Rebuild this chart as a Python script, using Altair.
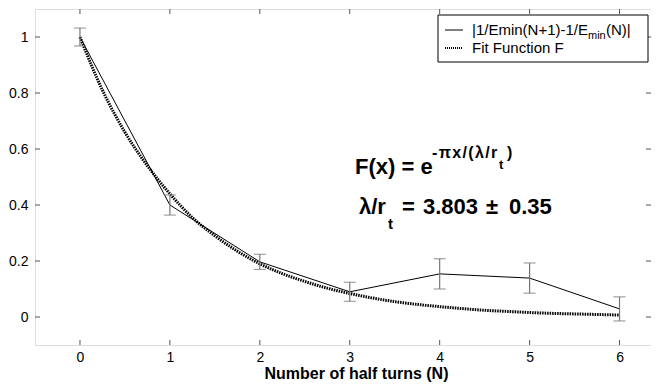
import altair as alt
import pandas as pd

# ---- data ----
N = [0, 1, 2, 3, 4, 5, 6]
diff_vals = [1.0, 0.40, 0.197, 0.090, 0.154, 0.139, 0.029]
diff_err = [0.032, 0.036, 0.027, 0.034, 0.054, 0.054, 0.043]

fit_x = [0, 0.25, 0.5, 0.75, 1, 1.25, 1.5, 1.75, 2, 2.25, 2.5, 2.75, 3,
         3.25, 3.5, 3.75, 4, 4.25, 4.5, 4.75, 5, 5.25, 5.5, 5.75, 6]
fit_y = [1.0, 0.81, 0.66, 0.54, 0.44, 0.355, 0.29, 0.235, 0.19, 0.155, 0.127,
         0.103, 0.084, 0.068, 0.055, 0.045, 0.037, 0.030, 0.024, 0.020, 0.016,
         0.013, 0.011, 0.009, 0.007]

x_ticks = [0, 1, 2, 3, 4, 5, 6]
y_ticks = [0, 0.2, 0.4, 0.6, 0.8, 1.0]

X_DOMAIN = [-0.5, 6.35]
Y_DOMAIN = [-0.1, 1.1]
W, H = 616, 336
FONT = "Liberation Sans"
FRAME = "#555555"
HS = "\u200a"  # hair space

df = pd.DataFrame({"N": N, "v": diff_vals, "e": diff_err})
df["lo"] = df["v"] - df["e"]
df["hi"] = df["v"] + df["e"]
fit = pd.DataFrame({"x": fit_x, "y": fit_y})

xs = alt.Scale(domain=X_DOMAIN, nice=False, zero=False)
ys = alt.Scale(domain=Y_DOMAIN, nice=False, zero=False)

xaxis = alt.Axis(values=x_ticks, format="d", ticks=False, grid=False, domain=False,
                 labelFont=FONT, labelFontSize=14, labelColor="black", labelPadding=5,
                 title="Number of half turns (N)", titleFont=FONT, titleFontSize=16,
                 titleFontWeight="bold", titleColor="black",
                 titleX=321, titleY=33, titleAlign="center", titleBaseline="alphabetic")
yaxis = alt.Axis(values=y_ticks, format="~g", ticks=False, grid=False, domain=False,
                 labelFont=FONT, labelFontSize=14, labelColor="black", labelPadding=7,
                 title=None)

base = alt.Chart(df)

fit_line = alt.Chart(fit).mark_line(color="black", strokeWidth=3, strokeDash=[1.5, 1],
                                    interpolate="monotone").encode(
    x=alt.X("x:Q", scale=xs, axis=xaxis),
    y=alt.Y("y:Q", scale=ys, axis=yaxis))

data_line = base.mark_line(color="black", strokeWidth=1).encode(
    x=alt.X("N:Q", scale=xs), y=alt.Y("v:Q", scale=ys))

err_rule = base.mark_rule(color="#777777", strokeWidth=1.2).encode(
    x=alt.X("N:Q", scale=xs), y=alt.Y("lo:Q", scale=ys), y2="hi:Q")
cap_lo = base.mark_tick(orient="horizontal", size=12, thickness=1.2, color="#777777").encode(
    x=alt.X("N:Q", scale=xs), y=alt.Y("lo:Q", scale=ys))
cap_hi = base.mark_tick(orient="horizontal", size=12, thickness=1.2, color="#777777").encode(
    x=alt.X("N:Q", scale=xs), y=alt.Y("hi:Q", scale=ys))

# inward ticks on all four sides
xt = pd.DataFrame({"t": x_ticks})
yt = pd.DataFrame({"t": y_ticks})
tick_b = alt.Chart(xt).mark_rule(color=FRAME).encode(
    x=alt.X("t:Q", scale=xs), y=alt.value(H), y2=alt.value(H - 5))
tick_t = alt.Chart(xt).mark_rule(color=FRAME).encode(
    x=alt.X("t:Q", scale=xs), y=alt.value(0), y2=alt.value(5))
tick_l = alt.Chart(yt).mark_rule(color=FRAME).encode(
    y=alt.Y("t:Q", scale=ys), x=alt.value(0), x2=alt.value(5))
tick_r = alt.Chart(yt).mark_rule(color=FRAME).encode(
    y=alt.Y("t:Q", scale=ys), x=alt.value(W), x2=alt.value(W - 5))

# legend box
one = pd.DataFrame({"a": [0]})
leg_box = alt.Chart(one).mark_rect(
    fill="white", stroke="black", strokeWidth=1).encode(
    x=alt.value(403), x2=alt.value(613), y=alt.value(6), y2=alt.value(53))
leg_l1 = alt.Chart(one).mark_rule(color="black", strokeWidth=1).encode(
    x=alt.value(410), x2=alt.value(428), y=alt.value(21))
leg_l2 = alt.Chart(one).mark_rule(
    color="black", strokeWidth=2, strokeDash=[1, 1]).encode(
    x=alt.value(410), x2=alt.value(428), y=alt.value(39))


def txt(s, x, y, size, bold=False, baseline="alphabetic"):
    return alt.Chart(pd.DataFrame({"s": [s]})).mark_text(
        align="left", baseline=baseline, font=FONT, fontSize=size,
        fontWeight="bold" if bold else "normal", color="black").encode(
        text="s:N", x=alt.value(x), y=alt.value(y))


leg_t1a = txt("|1/Emin(N+1)-1/E", 437, 26, 15)
leg_t1b = txt("min", 553, 30, 11)
leg_t1c = txt("(N)|", 571, 26, 15)
leg_t2 = txt("Fit Function F", 437, 44, 15)

sup = HS.join(["-", "\u03c0", "x", "/", "(", "\u03bb", "/", "r"])
ann1a = txt("F(x) = e", 320, 165, 22, True)
ann1b = txt(sup, 397, 149, 16, True)
ann1c = txt("t", 464, 160, 13, True)
ann1d = txt(")", 472, 149, 16, True)

ann2a = txt("\u03bb/r", 324, 205, 22, True)
ann2b = txt("t", 353, 220, 15, True)
ann2c = txt("=", 367, 205, 22, True)
ann2d = txt("3.803", 388, 205, 22, True)
ann2e = txt("\u00b1", 451, 205, 22, True)
ann2f = txt("0.35", 474, 205, 22, True)

chart = alt.layer(
    fit_line, data_line, err_rule, cap_lo, cap_hi,
    tick_b, tick_t, tick_l, tick_r,
    leg_box, leg_l1, leg_l2, leg_t1a, leg_t1b, leg_t1c, leg_t2,
    ann1a, ann1b, ann1c, ann1d, ann2a, ann2b, ann2c, ann2d, ann2e, ann2f,
).properties(
    width=W, height=H,
    autosize=alt.AutoSizeParams(type="none"),
    padding={"left": 27, "top": 1, "right": 0, "bottom": 40},
).configure_view(stroke=FRAME, strokeWidth=1).configure(background="white")

chart.save("out.html", embed_options={"renderer": "svg", "actions": False})
